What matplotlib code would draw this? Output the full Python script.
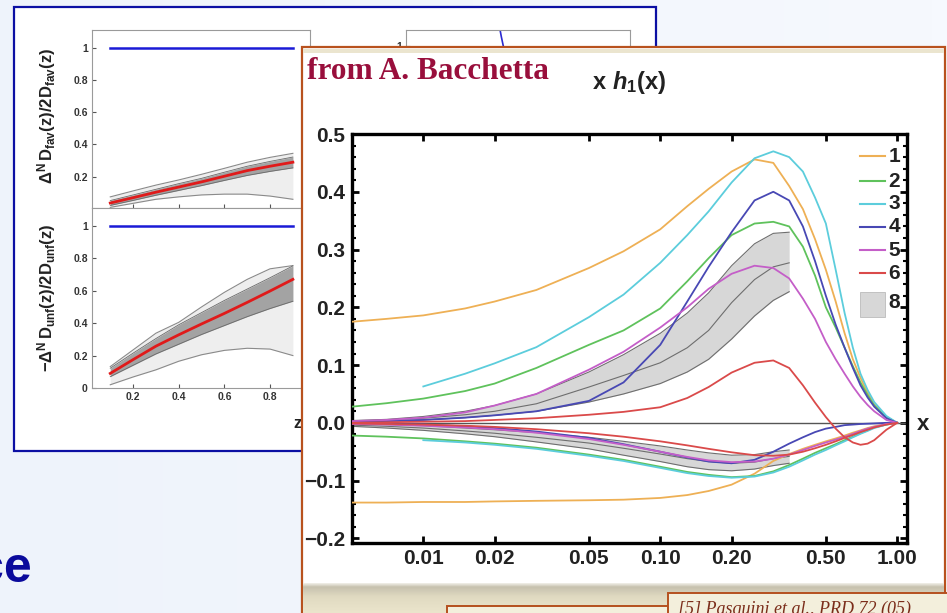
import numpy as np
import matplotlib
matplotlib.use("Agg")
import matplotlib.pyplot as plt
from matplotlib.patches import Rectangle
from matplotlib.ticker import MultipleLocator, NullLocator
from matplotlib.colors import LinearSegmentedColormap

plt.rcParams["font.family"] = ["Liberation Sans", "DejaVu Sans"]
plt.rcParams["font.weight"] = "bold"
plt.rcParams["mathtext.fontset"] = "custom"
plt.rcParams["mathtext.rm"] = "Liberation Sans:bold"
plt.rcParams["mathtext.it"] = "Liberation Sans:bold:italic"
plt.rcParams["mathtext.bf"] = "Liberation Sans:bold"

W, H = 947, 613

# --- front plot: x h1(x) ---
x_grid = [0.005, 0.007, 0.01, 0.015, 0.02, 0.03, 0.05, 0.07, 0.1, 0.13, 0.16, 0.2,
          0.25, 0.3, 0.35, 0.4, 0.45, 0.5, 0.55, 0.6, 0.65, 0.7, 0.75, 0.8, 0.9, 1.0]
x_cyan = x_grid[2:]
x_band = x_grid[:15]

h1_orange_up = [0.175, 0.180, 0.186, 0.198, 0.210, 0.230, 0.268, 0.297, 0.335, 0.375, 0.405, 0.435,
                0.456, 0.450, 0.41, 0.37, 0.318, 0.265, 0.21, 0.155, 0.11, 0.078, 0.052, 0.032, 0.01, 0.0]
h1_orange_dn = [-0.138, -0.138, -0.137, -0.137, -0.136, -0.135, -0.134, -0.133, -0.13, -0.125, -0.118, -0.107,
                -0.088, -0.066, -0.054, -0.045, -0.038, -0.032, -0.027, -0.022, -0.017, -0.013, -0.009,
                -0.006, -0.002, 0.0]
h1_green_up = [0.028, 0.034, 0.042, 0.055, 0.068, 0.095, 0.135, 0.16, 0.198, 0.245, 0.285, 0.325,
               0.345, 0.348, 0.34, 0.305, 0.255, 0.2, 0.165, 0.13, 0.098, 0.07, 0.048, 0.03, 0.01, 0.0]
h1_green_dn = [-0.022, -0.024, -0.027, -0.032, -0.036, -0.043, -0.055, -0.064, -0.076, -0.085, -0.09, -0.094,
               -0.092, -0.084, -0.073, -0.062, -0.052, -0.044, -0.037, -0.03, -0.024, -0.018, -0.013,
               -0.008, -0.003, 0.0]
h1_cyan_up = [0.063, 0.085, 0.103, 0.131, 0.183, 0.222, 0.277, 0.325, 0.366, 0.416,
              0.458, 0.47, 0.46, 0.435, 0.39, 0.345, 0.265, 0.19, 0.13, 0.085, 0.057, 0.036, 0.012, 0.0]
h1_cyan_dn = [-0.03, -0.034, -0.038, -0.045, -0.057, -0.066, -0.078, -0.087, -0.092, -0.095,
              -0.093, -0.086, -0.076, -0.065, -0.055, -0.047, -0.039, -0.032, -0.025, -0.019, -0.014,
              -0.009, -0.003, 0.0]
h1_blue_up = [0.002, 0.003, 0.005, 0.009, 0.013, 0.02, 0.038, 0.07, 0.135, 0.21, 0.27, 0.33,
              0.385, 0.40, 0.385, 0.34, 0.28, 0.22, 0.17, 0.13, 0.095, 0.065, 0.044, 0.028, 0.008, 0.0]
h1_blue_dn = [-0.001, -0.002, -0.003, -0.006, -0.009, -0.015, -0.026, -0.037, -0.05, -0.06, -0.067, -0.07,
              -0.064, -0.05, -0.036, -0.025, -0.016, -0.01, -0.007, -0.004, -0.003, -0.002, -0.0015,
              -0.001, 0.0, 0.0]
h1_magenta_up = [0.003, 0.005, 0.009, 0.018, 0.03, 0.05, 0.092, 0.123, 0.165, 0.2, 0.232, 0.258,
                 0.272, 0.268, 0.25, 0.215, 0.18, 0.14, 0.11, 0.085, 0.063, 0.045, 0.031, 0.02, 0.005, 0.0]
h1_magenta_dn = [-0.002, -0.003, -0.005, -0.008, -0.011, -0.017, -0.028, -0.038, -0.05, -0.059, -0.065, -0.068,
                 -0.067, -0.062, -0.055, -0.047, -0.04, -0.034, -0.029, -0.024, -0.019, -0.014, -0.01,
                 -0.007, -0.002, 0.0]
h1_red_up = [0.0, 0.001, 0.002, 0.003, 0.005, 0.008, 0.014, 0.019, 0.027, 0.043, 0.062, 0.087,
             0.104, 0.108, 0.095, 0.065, 0.035, 0.01, -0.01, -0.025, -0.034, -0.038, -0.036, -0.03, -0.012, 0.0]
h1_red_dn = [-0.001, -0.002, -0.003, -0.005, -0.007, -0.011, -0.018, -0.024, -0.032, -0.039, -0.045, -0.051,
             -0.056, -0.057, -0.055, -0.05, -0.044, -0.038, -0.032, -0.026, -0.021, -0.016, -0.012,
             -0.008, -0.003, 0.0]

# gray band (set 8), up = u-type, dn = d-type
band_up_hi = [0.004, 0.006, 0.011, 0.02, 0.03, 0.05, 0.088, 0.118, 0.155, 0.19, 0.225, 0.272, 0.31, 0.328, 0.33]
band_up_mid = [0.003, 0.005, 0.008, 0.014, 0.02, 0.033, 0.062, 0.082, 0.104, 0.13, 0.16, 0.208, 0.248, 0.27, 0.277]
band_up_lo = [0.002, 0.003, 0.005, 0.009, 0.013, 0.02, 0.036, 0.05, 0.068, 0.088, 0.11, 0.145, 0.185, 0.212, 0.227]
band_dn_hi = [-0.002, -0.003, -0.005, -0.009, -0.012, -0.017, -0.025, -0.032, -0.04, -0.047, -0.052, -0.056, -0.055, -0.05, -0.047]
band_dn_mid = [-0.004, -0.006, -0.009, -0.014, -0.018, -0.025, -0.035, -0.044, -0.054, -0.062, -0.067, -0.07, -0.068, -0.062, -0.058]
band_dn_lo = [-0.006, -0.009, -0.013, -0.019, -0.024, -0.033, -0.045, -0.056, -0.067, -0.076, -0.081, -0.083, -0.08, -0.074, -0.07]

legend_labels = ["1", "2", "3", "4", "5", "6", "8"]
x_ticks = [0.01, 0.02, 0.05, 0.1, 0.2, 0.5, 1.0]
x_tick_labels = ["0.01", "0.02", "0.05", "0.10", "0.20", "0.50", "1.00"]
y_ticks = [-0.2, -0.1, 0.0, 0.1, 0.2, 0.3, 0.4, 0.5]
y_tick_labels = ["\u22120.2", "\u22120.1", "0.0", "0.1", "0.2", "0.3", "0.4", "0.5"]

# --- back plots: Delta^N D(z)/2D(z) ---
z = [0.1, 0.2, 0.3, 0.4, 0.5, 0.6, 0.7, 0.8, 0.9]
fav_red = [0.037, 0.07, 0.104, 0.136, 0.168, 0.203, 0.238, 0.265, 0.29]
fav_dark_lo = [0.022, 0.053, 0.085, 0.115, 0.145, 0.177, 0.208, 0.233, 0.255]
fav_dark_hi = [0.052, 0.087, 0.122, 0.157, 0.19, 0.228, 0.265, 0.295, 0.322]
fav_light_lo = [0.01, 0.035, 0.06, 0.075, 0.087, 0.092, 0.092, 0.08, 0.06]
fav_light_hi = [0.075, 0.112, 0.148, 0.18, 0.215, 0.252, 0.29, 0.32, 0.345]
unf_red = [0.09, 0.175, 0.258, 0.328, 0.395, 0.46, 0.528, 0.598, 0.67]
unf_dark_lo = [0.07, 0.14, 0.21, 0.27, 0.33, 0.385, 0.44, 0.49, 0.535]
unf_dark_hi = [0.122, 0.215, 0.305, 0.39, 0.465, 0.54, 0.61, 0.68, 0.753]
unf_light_lo = [0.02, 0.068, 0.112, 0.165, 0.205, 0.232, 0.245, 0.24, 0.2]
unf_light_hi = [0.132, 0.235, 0.338, 0.405, 0.5, 0.59, 0.67, 0.735, 0.755]
blue_z = [0.1, 0.9]
blue_val = [1.0, 1.0]
side_x = [0.40, 0.425, 0.45, 0.5]
side_y = [1.2, 1.05, 0.92, 0.75]
back_ticks = [0.2, 0.4, 0.6, 0.8]
back_yticks = [0, 0.2, 0.4, 0.6, 0.8, 1]
back_ylabels = ["0", "0.2", "0.4", "0.6", "0.8", "1"]


def box(x0, y0, x1, y1):
    """pixel box (top-left origin) -> figure rect"""
    return [x0 / W, 1 - y1 / H, (x1 - x0) / W, (y1 - y0) / H]


def layer(zo):
    a = fig.add_axes([0, 0, 1, 1], zorder=zo)
    a.patch.set_visible(False)
    a.axis("off")
    return a


fig = plt.figure(figsize=(W / 100, H / 100), dpi=100)

# ---- slide background + back panel ----
bg = layer(0)
grad = np.linspace(0, 1, 64).reshape(1, -1) * np.ones((64, 1))
bg.imshow(grad, extent=(0, W, H, 0), aspect="auto",
          cmap=LinearSegmentedColormap.from_list("sl", ["#eef3fb", "#f6f9fe"]))
bg.add_patch(Rectangle((14, 7), 642, 444, fc="white", ec="#0b0fa3", lw=1.6))
bg.text(32, 582, "ce", ha="right", va="baseline", fontsize=36, color="#0a0a9c")
bg.text(47, 116, r"$\mathrm{\Delta^{N}\,D_{fav}(z)/2D_{fav}(z)}$",
        rotation=90, ha="center", va="center", fontsize=12, color="#222222")
bg.text(47, 298, r"$\mathrm{-\Delta^{N}\,D_{unf}(z)/2D_{unf}(z)}$",
        rotation=90, ha="center", va="center", fontsize=12, color="#222222")
bg.text(298, 423, "z", ha="center", va="center", fontsize=12, color="#222222")
bg.set_xlim(0, W)
bg.set_ylim(H, 0)


def back_axes(rect, ylim):
    a = fig.add_axes(rect, zorder=1)
    a.set_xlim(0.02, 0.975)
    a.set_ylim(*ylim)
    for s in a.spines.values():
        s.set_color("#9a9a9a")
        s.set_linewidth(0.8)
    a.tick_params(direction="in", length=3, color="#555555", labelsize=7.5,
                  labelcolor="#333333", pad=3)
    return a


axU = back_axes(box(92, 30, 310, 208), (0.006, 1.11))
axU.fill_between(z, fav_light_lo, fav_light_hi, color="#eeeeee", lw=0)
axU.fill_between(z, fav_dark_lo, fav_dark_hi, color="#a3a3a3", lw=0)
for edge in (fav_light_lo, fav_light_hi):
    axU.plot(z, edge, color="#8a8a8a", lw=0.8)
for edge in (fav_dark_lo, fav_dark_hi):
    axU.plot(z, edge, color="#6a6a6a", lw=0.6)
axU.plot(z, fav_red, color="#e01a1a", lw=2)
axU.plot(blue_z, blue_val, color="#1a1ad6", lw=1.8)
axU.set_xticks(back_ticks, labels=[])
axU.set_yticks(back_yticks[1:], labels=back_ylabels[1:])

axL = back_axes(box(92, 208, 310, 388), (0.0, 1.11))
axL.fill_between(z, unf_light_lo, unf_light_hi, color="#eeeeee", lw=0)
axL.fill_between(z, unf_dark_lo, unf_dark_hi, color="#a3a3a3", lw=0)
for edge in (unf_light_lo, unf_light_hi):
    axL.plot(z, edge, color="#8a8a8a", lw=0.8)
for edge in (unf_dark_lo, unf_dark_hi):
    axL.plot(z, edge, color="#6a6a6a", lw=0.6)
axL.plot(z, unf_red, color="#e01a1a", lw=2)
axL.plot(blue_z, blue_val, color="#1a1ad6", lw=1.8)
axL.set_xticks(back_ticks, labels=[f"{t:.1f}" for t in back_ticks])
axL.set_yticks(back_yticks, labels=back_ylabels)

axR = back_axes(box(406, 30, 630, 250), (0.0, 1.08))
axR.set_xlim(0, 1)
axR.plot(side_x, side_y, color="#2a2ad0", lw=1.2)
axR.set_xticks([])
axR.set_yticks([1], labels=["1"])

# ---- front panel ----
fr = layer(2)
fr.add_patch(Rectangle((302, 47), 643, 620, fc="white", ec="#b8521e", lw=1.6, zorder=1))
fr.add_patch(Rectangle((303, 48.5), 641, 4.5, fc="#ebe5cf", lw=0, zorder=2))
shade = np.linspace(0, 1, 40).reshape(-1, 1)
fr.imshow(shade, extent=(303, 944, 583, 613), origin="lower", aspect="auto", zorder=2,
          cmap=LinearSegmentedColormap.from_list(
              "sh", [(0, "#f0eee6"), (0.12, "#c6c1ae"), (0.45, "#e0dac1"), (1, "#ebe5cc")]))
fr.add_patch(Rectangle((447, 606), 240, 30, fc="#f3efdc", ec="#b5501e", lw=1.4, zorder=3))
fr.add_patch(Rectangle((668, 593), 300, 40, fc="#f3efdc", ec="#b5501e", lw=1.4, zorder=3))
fr.text(678, 601, "[5] Pasquini et al., PRD 72 (05)", ha="left", va="top", zorder=4,
        family="Liberation Serif", style="italic", weight="normal", fontsize=13, color="#7b2d1a")
fr.text(307, 79, "from A. Bacchetta", ha="left", va="baseline", family="Liberation Serif",
        fontsize=22.5, color="#990f3c", zorder=4)
fr.text(629, 89, r"$\mathrm{x}\ \mathit{h}_{\mathrm{1}}(\mathrm{x})$", ha="center", va="baseline",
        fontsize=17, color="#222222", zorder=4)
fr.text(923, 425, "x", ha="center", va="center", fontsize=16, color="#222222", zorder=4)
fr.set_xlim(0, W)
fr.set_ylim(H, 0)

# ---- main axes ----
ax = fig.add_axes(box(352, 134, 907, 543), zorder=3)
ax.patch.set_visible(False)
ax.set_xscale("log")

ax.fill_between(x_band, band_up_lo, band_up_hi, color="#d7d7d7", lw=0, zorder=1)
ax.fill_between(x_band, band_dn_lo, band_dn_hi, color="#d7d7d7", lw=0, zorder=1)
for edge in (band_up_lo, band_up_mid, band_up_hi, band_dn_lo, band_dn_mid, band_dn_hi):
    ax.plot(x_band, edge, color="#6e6e6e", lw=0.8, zorder=2)
ax.axhline(0, color="#555555", lw=1.0, zorder=2)

colors = ["#eeb055", "#5fc25c", "#5ccddc", "#4848b4", "#c45ec8", "#da4a4a"]
curves = [
    (x_grid, h1_orange_up, h1_orange_dn),
    (x_grid, h1_green_up, h1_green_dn),
    (x_cyan, h1_cyan_up, h1_cyan_dn),
    (x_grid, h1_blue_up, h1_blue_dn),
    (x_grid, h1_magenta_up, h1_magenta_dn),
    (x_grid, h1_red_up, h1_red_dn),
]
for col, (xs, up, dn) in zip(colors, curves):
    ax.plot(xs, up, color=col, lw=1.3, zorder=3)
    ax.plot(xs, dn, color=col, lw=1.3, zorder=3)

ax.set_xlim(0.005, 1.1)
ax.set_ylim(-0.208, 0.5)
for s in ax.spines.values():
    s.set_linewidth(2.4)
ax.set_xticks(x_ticks, labels=x_tick_labels)
ax.xaxis.set_minor_locator(NullLocator())
ax.set_yticks(y_ticks, labels=y_tick_labels)
ax.yaxis.set_minor_locator(MultipleLocator(0.02))
ax.tick_params(which="both", direction="in", top=True, right=True, labelsize=15,
               labelcolor="#222222")
ax.tick_params(which="major", length=5, width=2)
ax.tick_params(which="minor", length=3, width=1.5)
ax.tick_params(axis="y", pad=5)
ax.tick_params(axis="x", pad=4)

# legend (drawn by hand to match the original spacing)
leg_rows = [0.946, 0.885, 0.829, 0.773, 0.716, 0.660]
for col, lab, yy in zip(colors, legend_labels, leg_rows):
    ax.plot([0.915, 0.960], [yy, yy], color=col, lw=1.5, transform=ax.transAxes, clip_on=False)
    ax.text(0.967, yy, lab, transform=ax.transAxes, ha="left", va="center", fontsize=15,
            color="#222222")
ax.add_patch(Rectangle((0.915, 0.552), 0.045, 0.062, transform=ax.transAxes,
                       fc="#d7d7d7", ec="#bbbbbb", lw=0.6))
ax.text(0.967, 0.587, legend_labels[-1], transform=ax.transAxes, ha="left", va="center",
        fontsize=15, color="#222222")

fig.savefig("out.png", dpi=100)
